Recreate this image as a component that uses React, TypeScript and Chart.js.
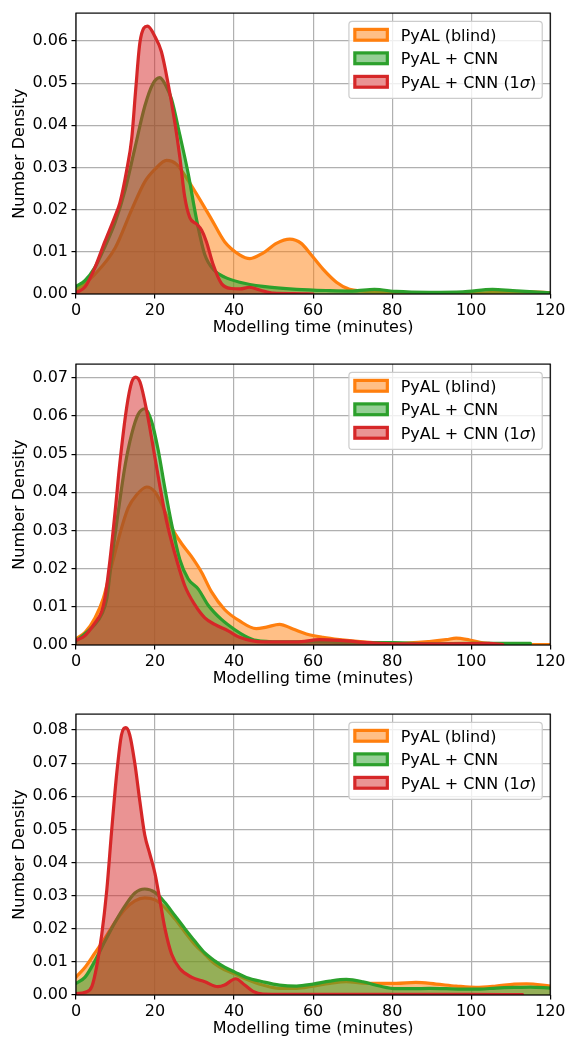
import React, { useEffect, useRef } from "react";
import { Chart, registerables } from "chart.js";

Chart.register(...registerables);

// Series labels and colours (tab10 orange / green / red)
const seriesLabels = ["PyAL (blind)", "PyAL + CNN", "PyAL + CNN (1\u03c3)"];
const seriesColors = ["#ff7f0e", "#2ca02c", "#d62728"];
const seriesFills = ["rgba(255,127,14,0.5)", "rgba(44,160,44,0.5)", "rgba(214,39,40,0.5)"];

const xTicks = [0, 20, 40, 60, 80, 100, 120];
const yLimits = [0.0666, 0.0736, 0.0848];
const xAxisTitle = "Modelling time (minutes)";
const yAxisTitle = "Number Density";

// ---- Panel 1 ----
const blindTime1 = [0, 4.8, 9.9, 14.1, 17.4, 20, 22.9, 25.4, 28.4, 30.9, 34.3, 37.6, 41.4, 44, 47.3, 50.7, 54.1, 57, 59.5, 62.5, 65.9, 69.2, 72.6, 80, 90, 100, 110, 115, 120];
const blindDensity1 = [0.0009, 0.0047, 0.0109, 0.02, 0.0266, 0.0296, 0.0317, 0.0308, 0.0269, 0.0231, 0.0177, 0.0124, 0.0093, 0.0084, 0.0097, 0.012, 0.013, 0.012, 0.0093, 0.0059, 0.0028, 0.0011, 0.0007, 0.0003, 0.0002, 0.0002, 0.0005, 0.0005, 0.0003];
const cnnTime1 = [0, 2.3, 4.8, 7.3, 9.9, 12.4, 14.9, 17.4, 19.5, 21.2, 22.9, 24.2, 26.3, 28.4, 30.5, 32.6, 35.1, 37.6, 41.4, 47.3, 55.8, 64.2, 70, 75.5, 81, 89.4, 97.9, 105.4, 110.5, 120];
const cnnDensity1 = [0.0018, 0.0032, 0.0063, 0.0112, 0.017, 0.0246, 0.0346, 0.0445, 0.0499, 0.0513, 0.0491, 0.0461, 0.0376, 0.0285, 0.0177, 0.0093, 0.0055, 0.004, 0.0028, 0.0018, 0.0011, 0.0008, 0.0007, 0.0011, 0.0006, 0.0004, 0.0005, 0.0011, 0.0008, 0.0003];
const sigmaTime1 = [0, 2.3, 4.8, 7.3, 9.9, 11.1, 12.8, 14.1, 15.1, 16.2, 18.1, 20, 21.6, 23.3, 25, 26.3, 27.5, 28.8, 30.5, 31.8, 33, 34.7, 36.8, 39.3, 41.5, 43.9, 46.7, 50, 55, 60];
const sigmaDensity1 = [0.0003, 0.0017, 0.0063, 0.0124, 0.0185, 0.0216, 0.0292, 0.0369, 0.0484, 0.0598, 0.0635, 0.061, 0.0575, 0.0499, 0.0407, 0.0323, 0.0231, 0.0181, 0.0166, 0.0151, 0.0124, 0.007, 0.0025, 0.0013, 0.0012, 0.0016, 0.0009, 0.0002, 0.0001, 0];

// ---- Panel 2 ----
const blindTime2 = [0, 2.3, 4.8, 6.9, 9, 11.1, 13.2, 15.3, 17.9, 20, 22.1, 24.2, 26.7, 29.2, 31.8, 34.3, 37.6, 41.4, 45.6, 48.2, 51.5, 54.9, 58.3, 62.5, 66.7, 72.6, 81, 89.4, 93.7, 96.2, 99.6, 103, 106.3, 110.5, 120];
const blindDensity2 = [0.0016, 0.0033, 0.0071, 0.0122, 0.0207, 0.0291, 0.0359, 0.0393, 0.0414, 0.0401, 0.0359, 0.0308, 0.0266, 0.0232, 0.019, 0.0139, 0.0093, 0.0063, 0.0043, 0.0047, 0.0054, 0.0042, 0.0029, 0.002, 0.0014, 0.0008, 0.0004, 0.0009, 0.0014, 0.0018, 0.0013, 0.0006, 0.0003, 0.0001, 0.0001];
const cnnTime2 = [0, 4.8, 6.5, 7.8, 9, 10.7, 12.4, 14.1, 15.7, 17.4, 19.1, 20.8, 22.5, 24.2, 26.3, 28.4, 30.9, 33.4, 36.8, 40.2, 42.7, 45.6, 51.5, 60, 72.6, 80.2, 90, 100, 115];
const cnnDensity2 = [0.001, 0.0054, 0.008, 0.0122, 0.0223, 0.035, 0.0469, 0.0553, 0.0604, 0.0619, 0.0587, 0.0511, 0.041, 0.0317, 0.0223, 0.0173, 0.0147, 0.0105, 0.0067, 0.004, 0.0024, 0.0012, 0.0008, 0.0008, 0.0006, 0.0006, 0.0003, 0.0004, 0.0004];
const sigmaTime2 = [0, 2.3, 4.8, 6.5, 7.3, 8.6, 9.9, 11.1, 12.8, 14.1, 15.1, 16.2, 17.9, 19.5, 21.2, 22.9, 25, 27.5, 30.1, 32.6, 35.1, 38.5, 41.4, 47.3, 55.8, 61.6, 66.8, 74.3, 81, 93.7, 104.6, 108];
const sigmaDensity2 = [0.0012, 0.0025, 0.0058, 0.0088, 0.0122, 0.0223, 0.035, 0.0477, 0.0621, 0.0689, 0.0702, 0.0689, 0.0613, 0.052, 0.0418, 0.0325, 0.024, 0.0156, 0.0105, 0.0071, 0.0054, 0.0037, 0.002, 0.0008, 0.0008, 0.0014, 0.0012, 0.0006, 0.0003, 0.0003, 0.0004, 0.0001];

// ---- Panel 3 ----
const blindTime3 = [0, 2.3, 4.8, 7.3, 9.9, 12.4, 14.9, 17.4, 20, 22.5, 25, 27.5, 30.1, 32.6, 35.1, 37.6, 40.2, 42.7, 47.3, 51.5, 55.8, 60, 64.2, 68.4, 72.6, 77.6, 81, 86, 91.1, 96.2, 101.2, 106.3, 110.9, 114, 120];
const blindDensity3 = [0.0054, 0.0084, 0.0127, 0.0171, 0.022, 0.0259, 0.0284, 0.0293, 0.0287, 0.0264, 0.023, 0.0191, 0.0152, 0.0123, 0.0094, 0.0076, 0.0064, 0.005, 0.003, 0.002, 0.002, 0.0027, 0.0035, 0.004, 0.0036, 0.0035, 0.0035, 0.0038, 0.0033, 0.0027, 0.0023, 0.0027, 0.0033, 0.0034, 0.0027];
const cnnTime3 = [0, 2.3, 4.8, 7.3, 9.9, 12.4, 14.9, 17.4, 20, 22.5, 25, 27.5, 30.1, 32.6, 35.1, 37.6, 40.2, 43.1, 47.3, 51.5, 55.8, 60, 64.2, 68.4, 72.6, 76.8, 81, 85.2, 89.4, 93.7, 97.9, 102.1, 106.3, 110.9, 115, 120];
const cnnDensity3 = [0.0035, 0.0054, 0.0103, 0.0162, 0.022, 0.0269, 0.0308, 0.032, 0.031, 0.0279, 0.024, 0.0201, 0.0162, 0.0127, 0.0103, 0.0084, 0.0069, 0.0053, 0.004, 0.003, 0.0027, 0.0033, 0.0042, 0.0047, 0.004, 0.0027, 0.0019, 0.0019, 0.002, 0.0019, 0.0018, 0.0018, 0.0021, 0.0023, 0.0024, 0.0021];
const sigmaTime3 = [0, 2.3, 4, 5.2, 6.5, 7.8, 9, 10.3, 11.5, 12.6, 13.6, 14.9, 16.2, 17.4, 18.7, 20, 21.2, 22.5, 24.2, 26.3, 29.2, 32.6, 35.9, 37.6, 40.4, 42.7, 44.8, 47.3, 60, 80, 100, 113];
const sigmaDensity3 = [0.0004, 0.0008, 0.0025, 0.0084, 0.0181, 0.0318, 0.0493, 0.0668, 0.0785, 0.0807, 0.0785, 0.0698, 0.0581, 0.0483, 0.0425, 0.0366, 0.0288, 0.0201, 0.0123, 0.0079, 0.0054, 0.004, 0.0025, 0.003, 0.0049, 0.003, 0.0011, 0.0003, 0.0002, 0.0002, 0.0002, 0.0001];

const panels = [
  { times: [blindTime1, cnnTime1, sigmaTime1], densities: [blindDensity1, cnnDensity1, sigmaDensity1], yMax: yLimits[0] },
  { times: [blindTime2, cnnTime2, sigmaTime2], densities: [blindDensity2, cnnDensity2, sigmaDensity2], yMax: yLimits[1] },
  { times: [blindTime3, cnnTime3, sigmaTime3], densities: [blindDensity3, cnnDensity3, sigmaDensity3], yMax: yLimits[2] },
];

const FONT = "DejaVu Sans";
const FONT_SIZE = 16;
const CANVAS_W = 568;
const CANVAS_H = 342;
const canvasTops = [0, 351, 701];

function toPoints(t: number[], d: number[]) {
  return t.map((x, i) => ({ x, y: d[i] }));
}

// Axes frame (all four spines) and the boxed legend in the upper right
const framePlugin = {
  id: "frameAndLegend",
  afterDraw(chart: any) {
    const { ctx, chartArea } = chart;
    const { left, right, top, bottom } = chartArea;
    ctx.save();
    ctx.strokeStyle = "#000";
    ctx.lineWidth = 1.2;
    ctx.strokeRect(left, top, right - left, bottom - top);

    const w = 193.3;
    const h = 77;
    const x0 = right - 8 - w;
    const y0 = top + 8.3;
    const r = 3.2;
    ctx.beginPath();
    ctx.moveTo(x0 + r, y0);
    ctx.lineTo(x0 + w - r, y0);
    ctx.quadraticCurveTo(x0 + w, y0, x0 + w, y0 + r);
    ctx.lineTo(x0 + w, y0 + h - r);
    ctx.quadraticCurveTo(x0 + w, y0 + h, x0 + w - r, y0 + h);
    ctx.lineTo(x0 + r, y0 + h);
    ctx.quadraticCurveTo(x0, y0 + h, x0, y0 + h - r);
    ctx.lineTo(x0, y0 + r);
    ctx.quadraticCurveTo(x0, y0, x0 + r, y0);
    ctx.closePath();
    ctx.fillStyle = "rgba(255,255,255,0.8)";
    ctx.fill();
    ctx.strokeStyle = "#cccccc";
    ctx.lineWidth = 1.2;
    ctx.stroke();

    for (let i = 0; i < seriesLabels.length; i++) {
      const cy = y0 + 13.4 + i * 23.5;
      ctx.fillStyle = "#fff";
      ctx.fillRect(x0 + 5.9, cy - 5.4, 32.5, 10.8);
      ctx.fillStyle = seriesFills[i];
      ctx.fillRect(x0 + 5.9, cy - 5.4, 32.5, 10.8);
      ctx.strokeStyle = seriesColors[i];
      ctx.lineWidth = 3.2;
      ctx.lineJoin = "miter";
      ctx.strokeRect(x0 + 5.9, cy - 5.4, 32.5, 10.8);

      ctx.fillStyle = "#000";
      ctx.textBaseline = "alphabetic";
      ctx.textAlign = "left";
      const tx = x0 + 51.7;
      const ty = cy + 5.8;
      const label = seriesLabels[i];
      const sig = label.indexOf("\u03c3");
      if (sig < 0) {
        ctx.font = `${FONT_SIZE}px "${FONT}"`;
        ctx.fillText(label, tx, ty);
      } else {
        const pre = label.slice(0, sig);
        const post = label.slice(sig + 1);
        ctx.font = `${FONT_SIZE}px "${FONT}"`;
        ctx.fillText(pre, tx, ty);
        let x = tx + ctx.measureText(pre).width;
        ctx.font = `italic ${FONT_SIZE}px "${FONT}"`;
        ctx.fillText("\u03c3", x, ty);
        x += ctx.measureText("\u03c3").width;
        ctx.font = `${FONT_SIZE}px "${FONT}"`;
        ctx.fillText(post, x, ty);
      }
    }
    ctx.restore();
  },
};

function makeConfig(panel: (typeof panels)[number]): any {
  const order = [3, 2, 1];
  const datasets = seriesLabels.map((label, i) => ({
    label,
    data: toPoints(panel.times[i], panel.densities[i]),
    borderColor: seriesColors[i],
    backgroundColor: seriesFills[i],
    borderWidth: 3.2,
    fill: "origin",
    pointRadius: 0,
    cubicInterpolationMode: "monotone",
    borderJoinStyle: "round",
    borderCapStyle: "round",
    order: order[i],
    clip: 0,
  }));
  const tickFont = { family: FONT, size: FONT_SIZE };
  return {
    type: "line",
    data: { datasets },
    options: {
      responsive: false,
      animation: false,
      events: [],
      layout: { padding: { top: 4, right: 17, left: 0, bottom: 0 } },
      plugins: { legend: { display: false }, tooltip: { enabled: false } },
      scales: {
        x: {
          type: "linear",
          min: xTicks[0],
          max: xTicks[xTicks.length - 1],
          z: 1,
          afterBuildTicks: (s: any) => {
            s.ticks = xTicks.map((v) => ({ value: v }));
          },
          afterFit: (s: any) => {
            s.height = 48;
          },
          grid: { color: "#b0b0b0", lineWidth: 1.2, tickColor: "#000", tickWidth: 1.2, tickLength: 4.5 },
          border: { display: false },
          ticks: { font: tickFont, color: "#000", padding: 2.5, maxRotation: 0, callback: (v: any) => String(v) },
          title: { display: true, text: xAxisTitle, font: tickFont, color: "#000", padding: { top: 0, bottom: 4.4 } },
        },
        y: {
          type: "linear",
          min: 0,
          max: panel.yMax,
          z: 1,
          afterBuildTicks: (s: any) => {
            const ticks = [];
            for (let k = 0; k * 0.01 <= panel.yMax + 1e-9; k++) ticks.push({ value: k * 0.01 });
            s.ticks = ticks;
          },
          afterFit: (s: any) => {
            s.width = 76;
          },
          grid: { color: "#b0b0b0", lineWidth: 1.2, tickColor: "#000", tickWidth: 1.2, tickLength: 4.5 },
          border: { display: false },
          ticks: { font: tickFont, color: "#000", padding: 3.5, callback: (v: any) => Number(v).toFixed(2) },
          title: { display: true, text: yAxisTitle, font: tickFont, color: "#000", padding: { top: 10.4, bottom: 0 } },
        },
      },
    },
    plugins: [framePlugin],
  };
}

export default function App() {
  const refs = [useRef<HTMLCanvasElement>(null), useRef<HTMLCanvasElement>(null), useRef<HTMLCanvasElement>(null)];

  useEffect(() => {
    const charts = panels.map((panel, i) => new Chart(refs[i].current as HTMLCanvasElement, makeConfig(panel)));
    return () => charts.forEach((c) => c.destroy());
  }, []);

  return (
    <div style={{ position: "absolute", left: 0, top: 0, width: CANVAS_W, height: 1043, background: "#fff" }}>
      {panels.map((_, i) => (
        <canvas
          key={i}
          ref={refs[i]}
          width={CANVAS_W}
          height={CANVAS_H}
          style={{ position: "absolute", left: 0, top: canvasTops[i], width: CANVAS_W, height: CANVAS_H }}
        />
      ))}
    </div>
  );
}
